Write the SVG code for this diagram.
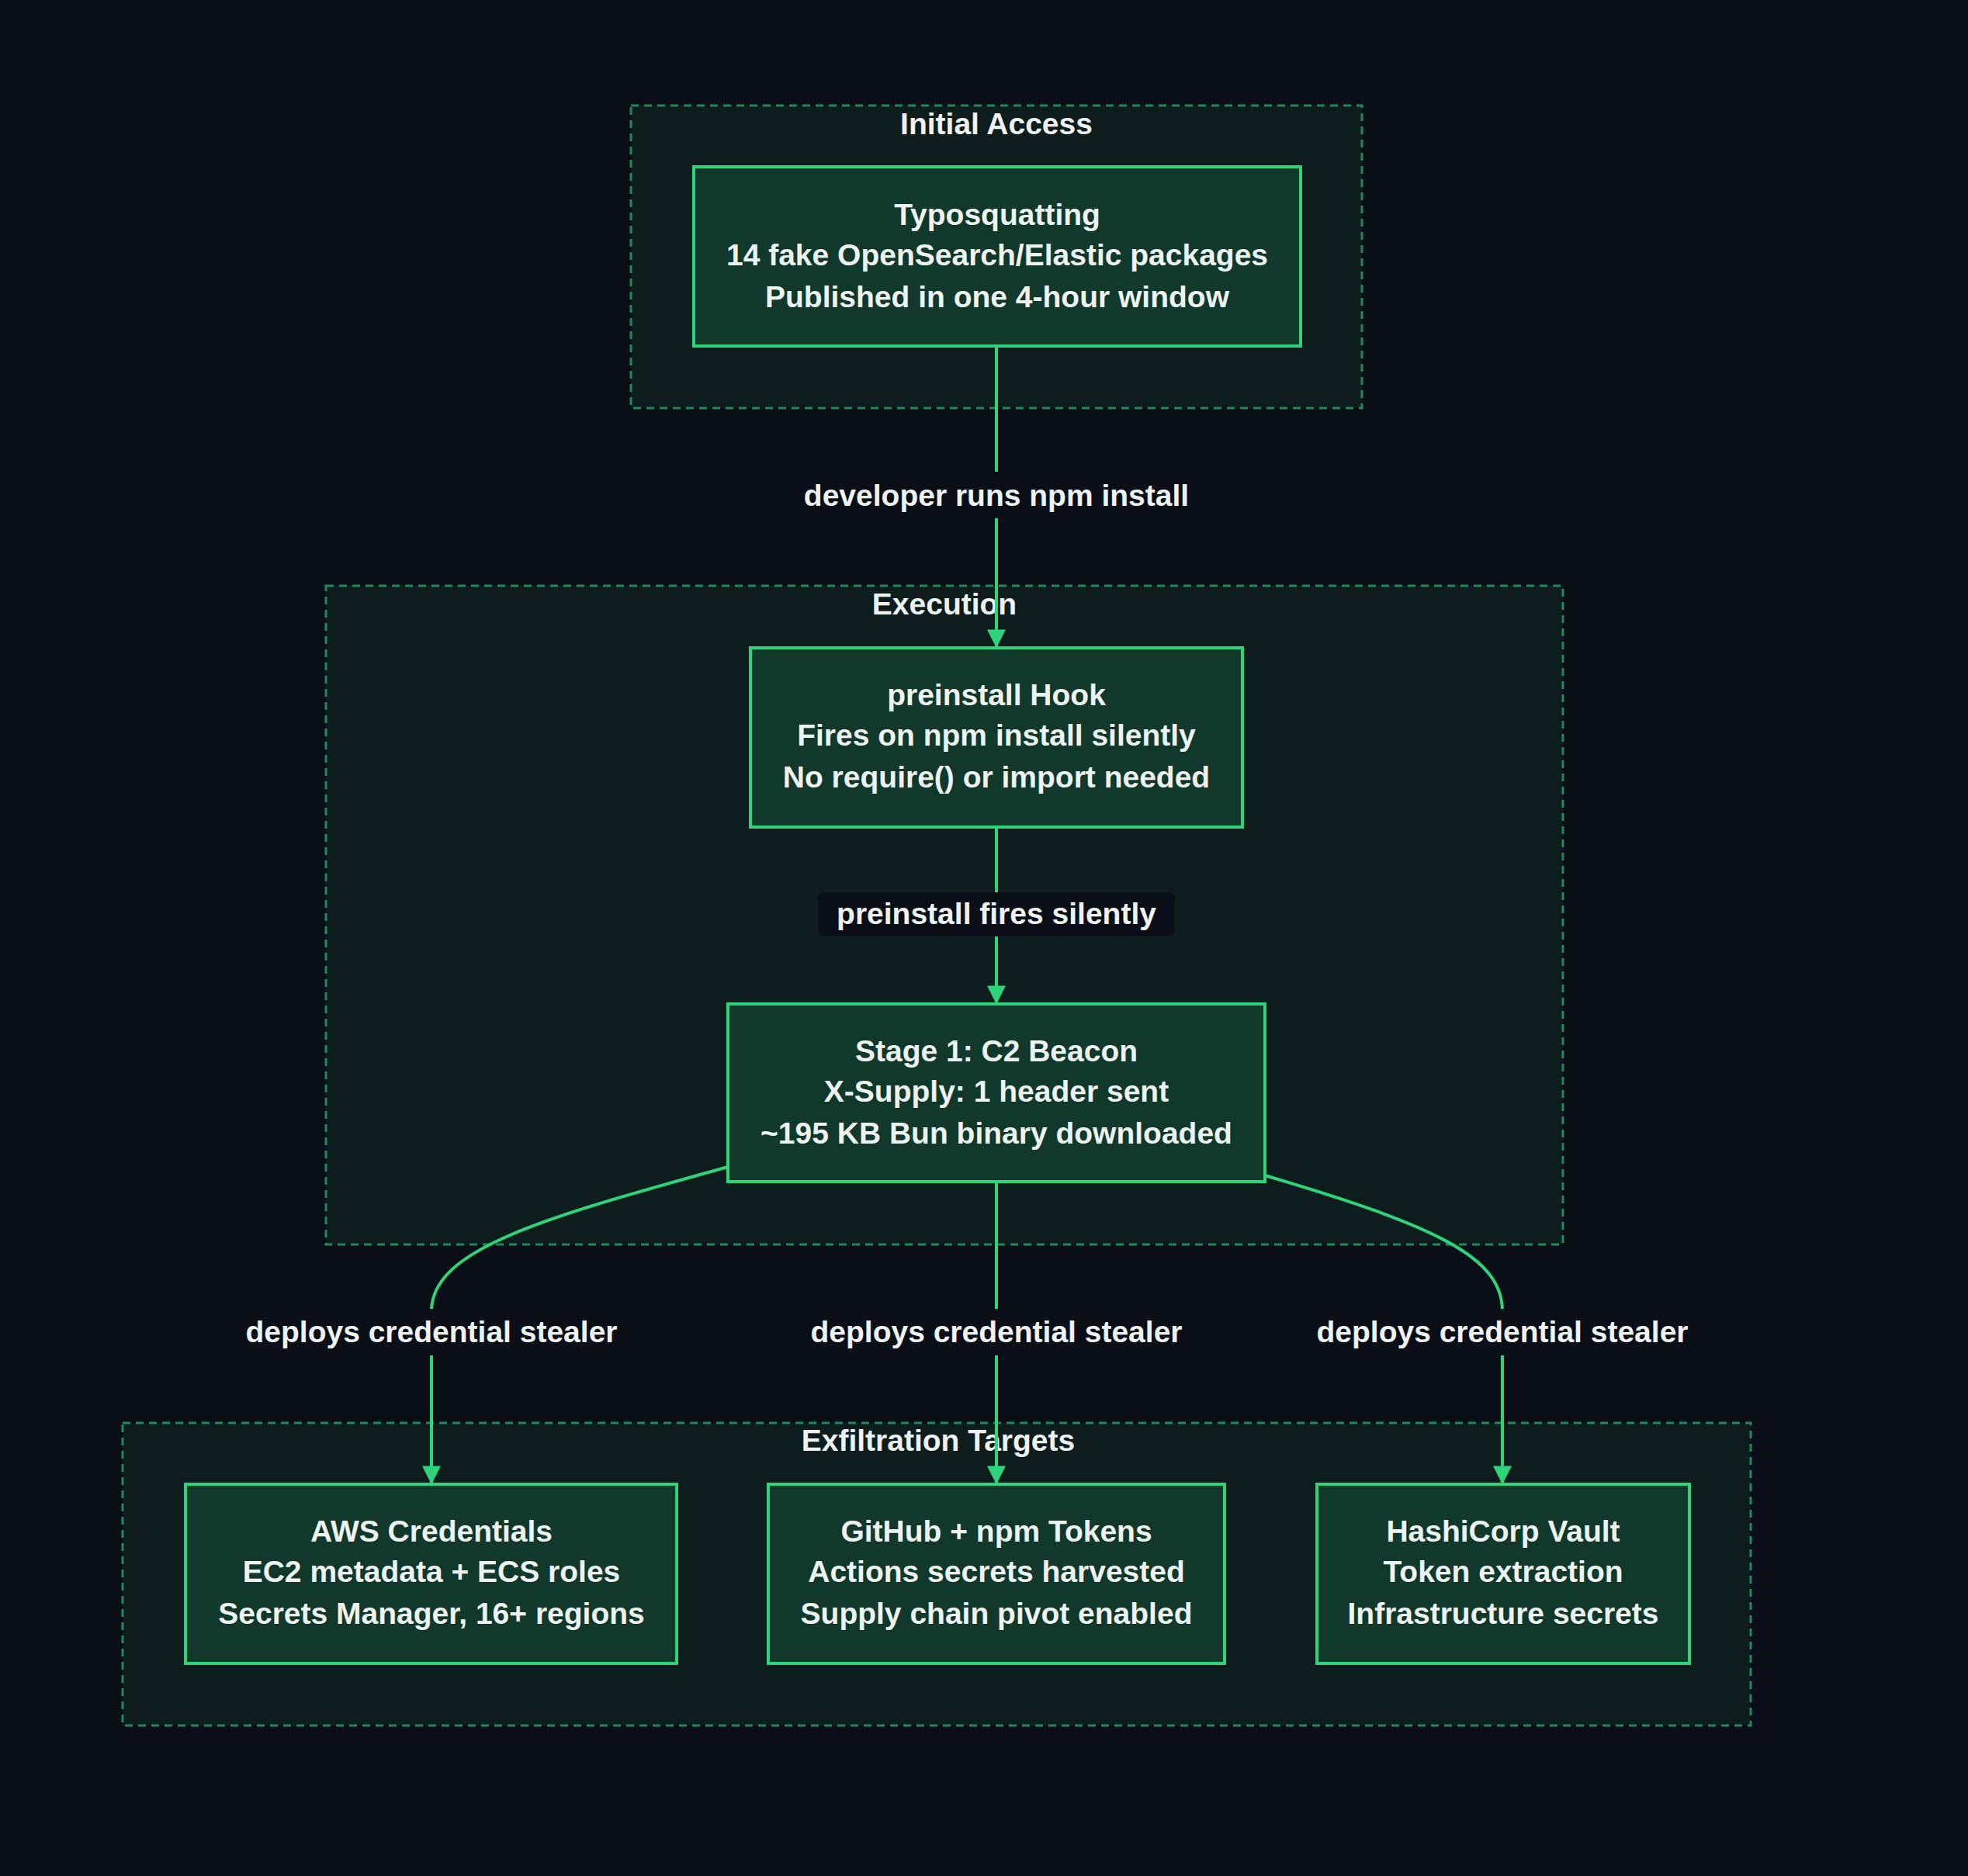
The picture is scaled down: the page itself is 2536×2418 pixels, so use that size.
<svg xmlns="http://www.w3.org/2000/svg" width="2536" height="2418" viewBox="0 0 2536 2418">
<style>
.cl{fill:#0d1c1d;stroke:#1e8a55;stroke-width:3;stroke-dasharray:10 7}
.nd{fill:#10392b;stroke:#2ed47a;stroke-width:4}
text{font-family:"Liberation Sans",Arial,sans-serif;font-weight:bold;fill:#eef2f0;text-anchor:middle}
.t{font-size:39px}
.e{fill:none;stroke:#2ed47a;stroke-width:4}
</style>
<defs><marker id="ah" viewBox="0 0 10 10" refX="9" refY="5" markerWidth="6" markerHeight="6" orient="auto"><path d="M0,0L10,5L0,10z" fill="#2ed47a"/></marker></defs>
<rect width="2536" height="2418" fill="#0a0e17"/>
<g id="clusters">
<rect class="cl" x="813" y="136" width="942" height="390"/><text class="t" x="1284" y="173">Initial Access</text>
<rect class="cl" x="420" y="755" width="1594" height="849"/><text class="t" x="1217" y="792">Execution</text>
<rect class="cl" x="158" y="1834" width="2098" height="390"/><text class="t" x="1209" y="1870">Exfiltration Targets</text>
</g>
<g id="connectors">
<path class="e" d="M1284,446L1284,833" marker-end="url(#ah)"/>
<path class="e" d="M1284,1066L1284,1292" marker-end="url(#ah)"/>
<path class="e" d="M1284,1523L1284,1911" marker-end="url(#ah)"/>
<path class="e" d="M938,1504C700,1570 556,1610 556,1690L556,1911" marker-end="url(#ah)"/>
<path class="e" d="M1630,1515C1850,1580 1936,1620 1936,1690L1936,1911" marker-end="url(#ah)"/>
<rect x="1020" y="608" width="528" height="60" fill="#0a0e17"/><text class="t" x="1284" y="652">developer runs npm install</text>
<rect x="1054" y="1150" width="460" height="57" rx="8" fill="#0a0e17"/><text class="t" x="1284" y="1191">preinstall fires silently</text>
<rect x="300" y="1687" width="512" height="60" fill="#0a0e17"/><text class="t" x="556" y="1730">deploys credential stealer</text>
<rect x="1028" y="1687" width="512" height="60" fill="#0a0e17"/><text class="t" x="1284" y="1730">deploys credential stealer</text>
<rect x="1680" y="1687" width="512" height="60" fill="#0a0e17"/><text class="t" x="1936" y="1730">deploys credential stealer</text>
</g>
<g id="typo"><rect class="nd" x="894" y="215" width="782" height="231"/>
<text class="t" x="1285" y="290">Typosquatting</text><text class="t" x="1285" y="342">14 fake OpenSearch/Elastic packages</text><text class="t" x="1285" y="396">Published in one 4-hour window</text></g>
<g id="hook"><rect class="nd" x="967" y="835" width="634" height="231"/>
<text class="t" x="1284" y="909">preinstall Hook</text><text class="t" x="1284" y="961">Fires on npm install silently</text><text class="t" x="1284" y="1015">No require() or import needed</text></g>
<g id="stage1"><rect class="nd" x="938" y="1294" width="692" height="229"/>
<text class="t" x="1284" y="1368">Stage 1: C2 Beacon</text><text class="t" x="1284" y="1420">X-Supply: 1 header sent</text><text class="t" x="1284" y="1474">~195 KB Bun binary downloaded</text></g>
<g id="aws"><rect class="nd" x="239" y="1913" width="633" height="231"/>
<text class="t" x="556" y="1987">AWS Credentials</text><text class="t" x="556" y="2039">EC2 metadata + ECS roles</text><text class="t" x="556" y="2093">Secrets Manager, 16+ regions</text></g>
<g id="github"><rect class="nd" x="990" y="1913" width="588" height="231"/>
<text class="t" x="1284" y="1987">GitHub + npm Tokens</text><text class="t" x="1284" y="2039">Actions secrets harvested</text><text class="t" x="1284" y="2093">Supply chain pivot enabled</text></g>
<g id="vault"><rect class="nd" x="1697" y="1913" width="480" height="231"/>
<text class="t" x="1937" y="1987">HashiCorp Vault</text><text class="t" x="1937" y="2039">Token extraction</text><text class="t" x="1937" y="2093">Infrastructure secrets</text></g>
</svg>
